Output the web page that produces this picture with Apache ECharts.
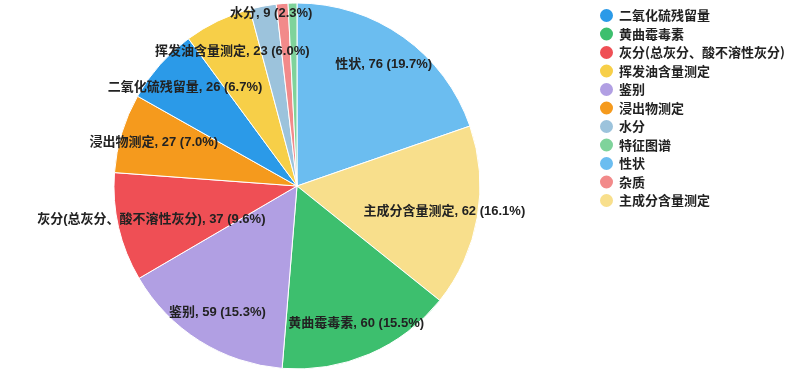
<!DOCTYPE html>
<html>
<head>
<meta charset="utf-8">
<script src="https://cdn.jsdelivr.net/npm/echarts@6/dist/echarts.min.js"></script>
<style>html,body{margin:0;padding:0;background:#fff;}#c{width:800px;height:373px;}</style>
</head>
<body>
<div id="c"></div>
<script>
const categories = ['性状','主成分含量测定','黄曲霉毒素','鉴别','灰分(总灰分、酸不溶性灰分)','浸出物测定','二氧化硫残留量','挥发油含量测定','水分','杂质','特征图谱'];
const values = [76, 62, 60, 59, 37, 27, 26, 23, 9, 4, 3];
const legendOrder = ['二氧化硫残留量','黄曲霉毒素','灰分(总灰分、酸不溶性灰分)','挥发油含量测定','鉴别','浸出物测定','水分','特征图谱','性状','杂质','主成分含量测定'];
const colorMap = {
  '二氧化硫残留量':'#2b9ae8','黄曲霉毒素':'#3dbf6e','灰分(总灰分、酸不溶性灰分)':'#ef4f55','挥发油含量测定':'#f7cf48',
  '鉴别':'#b19fe3','浸出物测定':'#f59a1d','水分':'#9cc3dc','特征图谱':'#7fd39b','性状':'#6bbdf0','杂质':'#f28a8a','主成分含量测定':'#f8df8c'
};
const hiddenLabels = ['杂质','特征图谱'];
const total = values.reduce((a,b)=>a+b,0);
const chart = echarts.init(document.getElementById('c'));
const baseData = categories.map((n,i)=>({name:n,value:values[i],itemStyle:{color:colorMap[n]}}));
const labelData = categories.map((n,i)=>{
  const d = {name:n,value:values[i],itemStyle:{color:'rgba(0,0,0,0)'}};
  if (hiddenLabels.includes(n)) d.label = {show:false};
  if (n === '水分') d.label = {offset:[2,-26]};
  return d;
});
chart.setOption({
  animation:false,
  legend:{
    orient:'vertical', left:593, top:2, itemGap:1.5, icon:'circle', itemWidth:15, itemHeight:15,
    data:legendOrder,
    textStyle:{fontFamily:'Noto Sans CJK SC', fontSize:13, color:'#222', fontWeight:'bold', lineHeight:17}
  },
  series:[
    {type:'pie', center:[297,186], radius:[0,183], startAngle:90, clockwise:true,
     data:baseData, label:{show:false}, labelLine:{show:false},
     itemStyle:{borderColor:'#fff', borderWidth:1}},
    {type:'pie', center:[297,186], radius:[110,183], startAngle:90, clockwise:true,
     silent:true, data:labelData, labelLine:{show:false}, emphasis:{disabled:true},
     itemStyle:{borderWidth:0},
     label:{show:true, position:'inside', color:'#222', fontSize:13, fontWeight:'bold',
       fontFamily:'Arial, Liberation Sans, Noto Sans CJK SC',
       formatter:p=>p.name+', '+p.value+' ('+(p.value/total*100).toFixed(1)+'%)'}}
  ]
});
</script>
</body>
</html>
